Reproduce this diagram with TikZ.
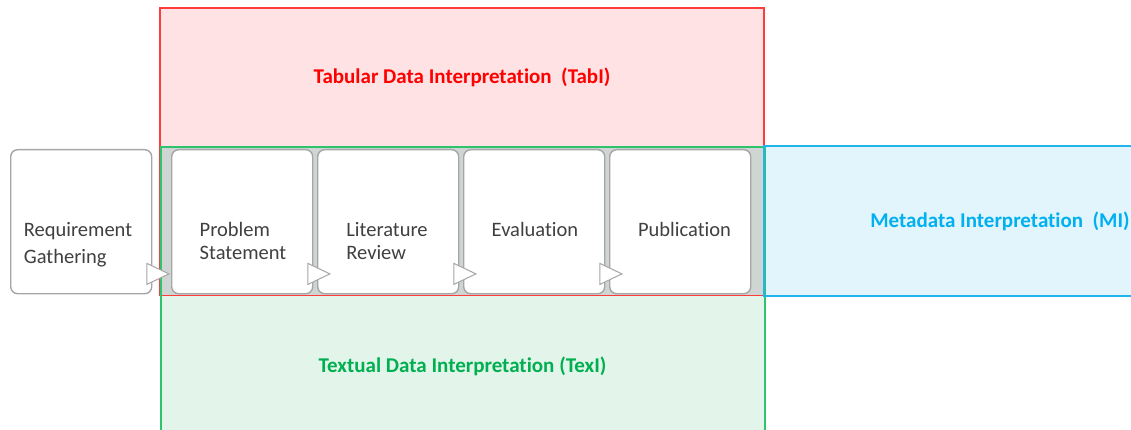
\documentclass[tikz,border=0pt]{standalone}
\usepackage{fontspec}
\setmainfont{Carlito}[Ligatures=NoCommon]
\usetikzlibrary{calc}
\definecolor{tabfill}{HTML}{FFE2E4}
\definecolor{tabline}{HTML}{FF3B3B}
\definecolor{tabtext}{HTML}{FF0000}
\definecolor{texfill}{HTML}{E3F5EA}
\definecolor{texline}{HTML}{2EC46E}
\definecolor{textext}{HTML}{00B050}
\definecolor{mifill}{HTML}{E2F4FC}
\definecolor{miline}{HTML}{1FB5EE}
\definecolor{mitext}{HTML}{00B0F0}
\definecolor{strip}{HTML}{CFD5D3}
\definecolor{boxgray}{HTML}{A6A6A6}
\definecolor{txtgray}{HTML}{404040}
\begin{document}
\begin{tikzpicture}[x=1pt,y=-1pt,
  stage/.style={draw=boxgray, line width=1.4pt, fill=white, rounded corners=7pt,
    minimum width=141pt, minimum height=144pt, anchor=north west, inner sep=0},
  flow/.style={draw=boxgray, line width=1pt, fill=white, line join=miter},
  steptext/.style={font=\fontsize{20.5}{22.3}\selectfont, text=txtgray, anchor=base, inner sep=0},
  band/.style={font=\bfseries\fontsize{21}{24}\selectfont, inner sep=0}]
\useasboundingbox (0,0) rectangle (1131,430);
\clip (0,0) rectangle (1131,430);
% coloured interpretation areas
\fill[tabfill] (160,8) rectangle (764,296);
\fill[texfill] (161,147) rectangle (765,440);
\fill[mifill] (764,146) rectangle (1240,296);
\fill[strip] (161,148) rectangle (763,295);
\draw[tabline, line width=1.2pt] (160,8) rectangle (764,295.5);
\draw[texline, line width=1.2pt] (161,147) rectangle (765,440);
\draw[miline, line width=1.2pt] (764,146) rectangle (1240,296);
% area labels
\node[band, text=tabtext] (tabi) at (462,77) {Tabular Data Interpretation\ \ (TabI)};
\node[band, text=textext] (texi) at (462.5,366) {Textual Data Interpretation (TexI)};
\node[band, text=mitext] (mi) at (1000,221) {Metadata Interpretation\ \ (MI)};
% process stages
\node[stage] (req) at (10,149) {};
\node[stage] (prob) at (171,149) {};
\node[stage] (lit) at (317,149) {};
\node[stage] (eval) at (463,149) {};
\node[stage] (pub) at (609,149) {};
\node[steptext] (reqt) at (78,236.7) {\begin{tabular}[t]{@{}l@{}}Requirement\\[4.3pt]Gathering\end{tabular}};
\node[steptext] (probt) at (243,236.7) {\begin{tabular}[t]{@{}l@{}}Problem\\Statement\end{tabular}};
\node[steptext] (litt) at (387,236.7) {\begin{tabular}[t]{@{}l@{}}Literature\\Review\end{tabular}};
\node[steptext] (evalt) at (535,236.7) {Evaluation};
\node[steptext] (pubt) at (684.5,236.7) {Publication};
% flow markers between consecutive stages
\foreach \s in {req,prob,lit,eval}{
  \draw[flow] ($(\s.south east)+(-5.5,-31)$) -- ($(\s.south east)+(-5.5,-10)$)
    -- ($(\s.south east)+(16.5,-20.5)$) -- cycle;
}
\end{tikzpicture}
\end{document}
